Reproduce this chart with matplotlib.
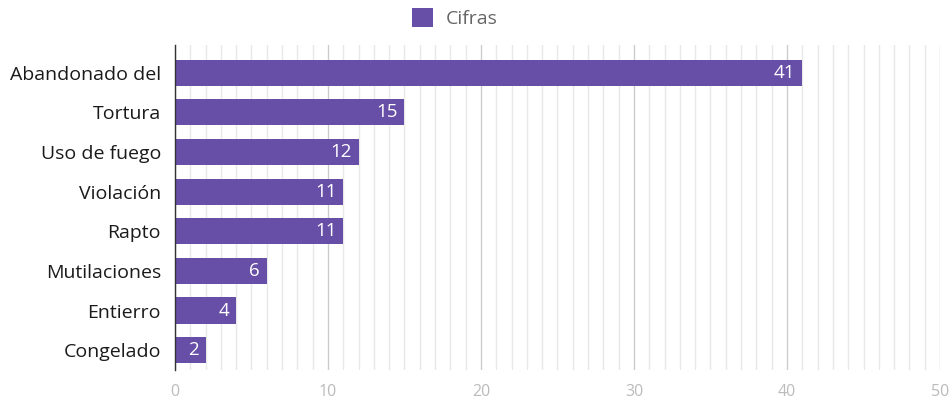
import matplotlib
matplotlib.use("Agg")
import matplotlib.pyplot as plt
from matplotlib.ticker import MultipleLocator

categories = ["Abandonado del", "Tortura", "Uso de fuego", "Violación",
              "Rapto", "Mutilaciones", "Entierro", "Congelado"]
values = [41, 15, 12, 11, 11, 6, 4, 2]
series_name = "Cifras"
x_ticks = [0, 10, 20, 30, 40, 50]

plt.rcParams['font.family'] = ['Open Sans', 'DejaVu Sans']
bar_color = "#674ea7"

fig = plt.figure(figsize=(9.52, 4.0), dpi=100)
ax = fig.add_axes([0.1838, 0.075, 0.8036, 0.8125])

ypos = list(range(len(categories)))
bars = ax.barh(ypos, values, height=0.66, color=bar_color, zorder=3, label=series_name)

for y, v in zip(ypos, values):
    ax.text(v - 0.45, y, str(v), ha="right", va="center", color="white",
            fontsize=13.5, zorder=4)

ax.set_xlim(0, 50)
ax.set_ylim(7.5, -0.7)
ax.set_yticks(ypos)
ax.set_yticklabels(categories, fontsize=14, color="#1a1a1a")
ax.set_xticks(x_ticks)
ax.set_xticklabels([str(t) for t in x_ticks], fontsize=11.5, color="#bbbbbb")
ax.xaxis.set_minor_locator(MultipleLocator(1))
ax.grid(axis="x", which="major", color="#cccccc", linewidth=1.0, zorder=0)
ax.grid(axis="x", which="minor", color="#e8e8e8", linewidth=1.0, zorder=0)
ax.tick_params(axis="both", which="both", length=0)
ax.tick_params(axis="y", pad=10)
ax.tick_params(axis="x", pad=10)
for s in ["top", "right", "bottom"]:
    ax.spines[s].set_visible(False)
ax.spines["left"].set_color("#333333")
ax.spines["left"].set_linewidth(1.0)
ax.spines["left"].set_zorder(5)

fig.legend(handles=[bars], labels=[series_name], loc="center",
           bbox_to_anchor=(0.478, 0.955), frameon=False, fontsize=14,
           labelcolor="#666666", handlelength=1.1, handleheight=1.1,
           handletextpad=0.65)

fig.savefig("out.png", dpi=100)
